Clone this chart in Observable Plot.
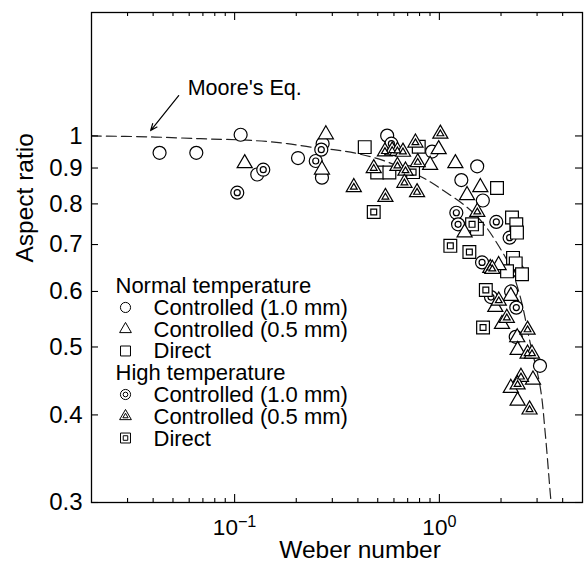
<!DOCTYPE html>
<html><head><meta charset="utf-8">
<script src="https://cdn.jsdelivr.net/npm/d3@7"></script>
<script src="https://cdn.jsdelivr.net/npm/@observablehq/plot@0.6"></script>
<style>
html,body{margin:0;padding:0;background:#fff;}
#chart{width:586px;height:568px;}
</style></head><body><div id="chart"></div>
<script>
const FONT = '"Liberation Sans", Arial, Helvetica, sans-serif';

// ---- tick values & labels ----
const weberTickMajor = [0.1, 1];
const weberTickLabels = ["10^-1", "10^0"];
const weberTickMinor = [0.03,0.04,0.05,0.06,0.07,0.08,0.09,0.2,0.3,0.4,0.5,0.6,0.7,0.8,0.9,2,3,4];
const aspectTicks = [0.3,0.4,0.5,0.6,0.7,0.8,0.9,1];

// ---- legend text ----
const groupNames = ["Normal temperature", "High temperature"];
const seriesNames = ["Controlled (1.0 mm)", "Controlled (0.5 mm)", "Direct"];
const mooreLabel = "Moore's Eq.";
const xLabel = "Weber number";
const yLabel = "Aspect ratio";

// ---- data: [Weber number, aspect ratio] ----
const normalCtrl10 = [
  [0.043,0.946],[0.065,0.946],[0.107,1.004],[0.129,0.881],[0.204,0.930],[0.269,0.975],
  [0.267,0.872],[0.556,1.001],[0.921,0.950],[1.53,0.905],[1.28,0.865],[1.63,0.809],
  [2.24,0.600],[2.36,0.517],[3.10,0.470]
];
const normalCtrl05 = [
  [0.112,0.914],[0.279,1.005],[0.267,0.895],[0.992,0.957],[0.901,0.909],[1.197,0.914],
  [1.585,0.845],[1.365,0.823],[1.328,0.728],[1.947,0.654],[2.233,0.591],[1.876,0.570],
  [2.022,0.539],[2.40,0.516],[2.41,0.495],[2.865,0.449],[2.233,0.437],[2.41,0.419]
];
const normalDirect = [
  [0.432,0.964],[0.497,0.887],[0.570,0.887],[0.793,0.965],[1.912,0.843],[1.525,0.737],
  [2.263,0.765],[2.375,0.748],[2.393,0.728],[2.289,0.670],[2.36,0.658],[2.14,0.641],[2.532,0.635]
];
const highCtrl10 = [
  [0.103,0.830],[0.138,0.895],[0.249,0.921],[0.265,0.956],[0.583,0.975],[1.21,0.777],
  [1.234,0.748],[1.897,0.754],[2.203,0.716],[1.616,0.660],[2.41,0.643],[1.787,0.589],[2.375,0.569]
];
const highCtrl05 = [
  [0.382,0.845],[0.542,0.950],[0.588,0.953],[0.624,0.952],[0.664,0.949],[0.764,0.978],
  [1.011,1.007],[0.784,0.917],[0.478,0.899],[0.624,0.906],[0.683,0.892],[0.545,0.818],
  [0.675,0.857],[0.778,0.831],[1.532,0.779],[1.773,0.648],[1.814,0.646],[1.95,0.582],
  [2.135,0.550],[2.696,0.529],[2.696,0.489],[2.833,0.489],[2.503,0.453],[2.41,0.442],[2.757,0.407]
];
const highDirect = [
  [0.744,0.888],[0.478,0.779],[1.444,0.748],[1.131,0.697],[1.401,0.683],[1.686,0.603],[1.634,0.533]
];
// Moore's equation curve
const mooreCurve = [
  [0.02,1.0],[0.038,0.997],[0.068,0.991],[0.107,0.987],[0.144,0.982],[0.181,0.975],
  [0.235,0.964],[0.304,0.956],[0.389,0.945],[0.535,0.922],[0.823,0.873],[1.046,0.836],
  [1.365,0.791],[1.639,0.750],[1.912,0.703],[2.22,0.650],[2.485,0.589],[2.78,0.506],
  [3.11,0.438],[3.29,0.376],[3.48,0.309],[3.53,0.295]
];
// annotation anchor (in data units)
const mooreTextPos = [0.059, 1.171];
const mooreArrow = [0.0533, 1.142, 0.0389, 1.018];

// ---- layout ----
const W = 586, H = 568, mt = 12, mr = 4, mb = 66, ml = 91;
const fw = W - ml - mr, fh = H - mt - mb;

const obj = arr => arr.map(([we, ar]) => ({we, ar}));
const SW = 1.2;
const sym = {
  circle:   {outer: 6.5, inner: 3.0},
  triangle: {outer: 5.6, inner: 2.5},
  square:   {outer: 7.2, inner: 3.3}
};
function series(data, s, high) {
  const m = [Plot.dot(obj(data), {x: "we", y: "ar", symbol: s, r: sym[s].outer, stroke: "#000", strokeWidth: SW, fill: "white"})];
  if (high) m.push(Plot.dot(obj(data), {x: "we", y: "ar", symbol: s, r: sym[s].inner, stroke: "#000", strokeWidth: SW, fill: "white"}));
  return m;
}

// legend rows
const legendRows = [
  {text: groupNames[0]},
  {text: seriesNames[0], s: "circle", high: false},
  {text: seriesNames[1], s: "triangle", high: false},
  {text: seriesNames[2], s: "square", high: false},
  {text: groupNames[1]},
  {text: seriesNames[0], s: "circle", high: true},
  {text: seriesNames[1], s: "triangle", high: true},
  {text: seriesNames[2], s: "square", high: true}
];
const legendMarks = [];
const LFS = 22, baseline0 = 292.7, rowStep = 21.76, lscale = 0.78;
legendRows.forEach((row, i) => {
  const base = baseline0 + rowStep * i - mt;
  if (!row.s) {
    legendMarks.push(Plot.text([row.text], {text: d => d, frameAnchor: "top-left", dx: 24, dy: base, textAnchor: "start", lineAnchor: "bottom", fontSize: LFS, fill: "#000"}));
  } else {
    legendMarks.push(Plot.text([row.text], {text: d => d, frameAnchor: "top-left", dx: 62, dy: base, textAnchor: "start", lineAnchor: "bottom", fontSize: LFS, fill: "#000"}));
    legendMarks.push(Plot.dot([row], {frameAnchor: "top-left", dx: 34, dy: base - 7.5, symbol: row.s, r: sym[row.s].outer * lscale, stroke: "#000", strokeWidth: 1, fill: "white"}));
    if (row.high) legendMarks.push(Plot.dot([row], {frameAnchor: "top-left", dx: 34, dy: base - 7.5, symbol: row.s, r: sym[row.s].inner * lscale, stroke: "#000", strokeWidth: 1, fill: "white"}));
  }
});

const chart = Plot.plot({
  width: W, height: H,
  marginTop: mt, marginRight: mr, marginBottom: mb, marginLeft: ml,
  style: {fontFamily: FONT, background: "#fff", color: "#000", overflow: "visible"},
  x: {type: "log", domain: [0.02, 5]},
  y: {type: "log", domain: [0.3, 1.5]},
  marks: [
    // Moore's equation
    Plot.line(obj(mooreCurve), {x: "we", y: "ar", stroke: "#222", strokeWidth: 1.2, strokeDasharray: "10,5", curve: "catmull-rom", clip: true}),
    // data
    ...series(normalCtrl10, "circle", false),
    ...series(highCtrl10, "circle", true),
    ...series(normalDirect, "square", false),
    ...series(highDirect, "square", true),
    ...series(normalCtrl05, "triangle", false),
    ...series(highCtrl05, "triangle", true),
    // annotation
    Plot.arrow([mooreArrow], {x1: d => d[0], y1: d => d[1], x2: d => d[2], y2: d => d[3], stroke: "#000", strokeWidth: 1.2, headLength: 9, headAngle: 45}),
    Plot.text([mooreLabel], {x: () => mooreTextPos[0], y: () => mooreTextPos[1], text: d => d, textAnchor: "start", lineAnchor: "middle", fontSize: 21.5, fill: "#000"}),
    // ticks (inward, all four sides)
    Plot.tickX(weberTickMajor, {x: d => d, insetTop: fh - 8, stroke: "#000", strokeWidth: 1.1}),
    Plot.tickX(weberTickMinor, {x: d => d, insetTop: fh - 4, stroke: "#000", strokeWidth: 1.1}),
    Plot.tickX(weberTickMajor, {x: d => d, insetBottom: fh - 8, stroke: "#000", strokeWidth: 1.1}),
    Plot.tickX(weberTickMinor, {x: d => d, insetBottom: fh - 4, stroke: "#000", strokeWidth: 1.1}),
    Plot.tickY(aspectTicks, {y: d => d, insetRight: fw - 7, stroke: "#000", strokeWidth: 1.1}),
    Plot.tickY(aspectTicks, {y: d => d, insetLeft: fw - 7, stroke: "#000", strokeWidth: 1.1}),
    Plot.frame({stroke: "#000", strokeWidth: 1.3}),
    // axes (labels only)
    Plot.axisX({ticks: weberTickMajor, tickFormat: d => weberTickLabels[weberTickMajor.indexOf(d)], tickSize: 0, tickPadding: 17, fontSize: 22.5, label: null}),
    Plot.axisY({ticks: aspectTicks, tickFormat: d => String(d), tickSize: 0, tickPadding: 9, fontSize: 24, label: null}),
    Plot.text([yLabel], {text: d => d, frameAnchor: "left", dx: -66, dy: 5, rotate: -90, fontSize: 24.5, fill: "#000"}),
    Plot.text([xLabel], {text: d => d, frameAnchor: "bottom", dx: 23, dy: 55, lineAnchor: "bottom", fontSize: 24.5, fill: "#000"}),
    ...legendMarks
  ]
});

// superscript exponents on the x tick labels
d3.select(chart).selectAll('g[aria-label="x-axis tick label"] text').each(function () {
  const s = this.textContent;
  const parts = s.split("^");
  if (parts.length < 2) return;
  const t = d3.select(this);
  t.text(null);
  t.append("tspan").text(parts[0]);
  t.append("tspan").attr("dy", "-0.55em").attr("font-size", "0.72em").text(parts[1].replace("-", "\u2212"));
});

document.getElementById("chart").appendChild(chart);
</script></body></html>
